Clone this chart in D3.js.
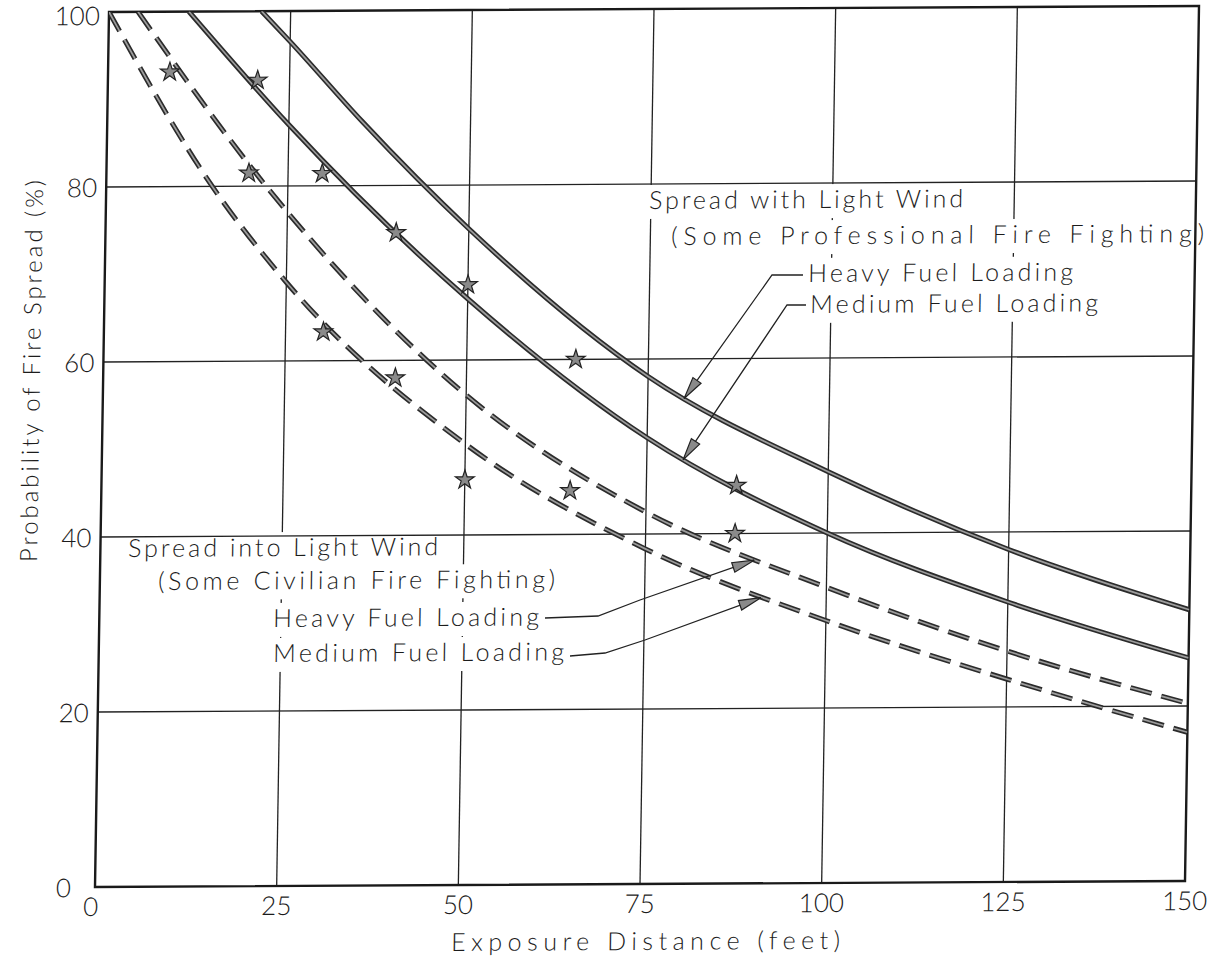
<!DOCTYPE html>
<html><head><meta charset="utf-8">
<script src="https://cdn.jsdelivr.net/npm/d3@7"></script>
<style>
html,body{margin:0;padding:0;background:#fff;}
svg{display:block;}
text{font-family:Lato,"Open Sans",sans-serif;font-weight:300;fill:#1c1c1c;}
</style></head><body>
<svg id="chart" width="1220" height="966"></svg>
<script>
// ---- data (exposure distance in feet, probability of fire spread in %) ----
const xTicks = [0, 25, 50, 75, 100, 125, 150];
const yTicks = [0, 20, 40, 60, 80, 100];

// Spread with light wind (some professional fire fighting) - solid curves
const heavyWithX  = [21, 25, 35, 50, 75, 100, 125, 150];
const heavyWithY  = [100, 96.5, 87.4, 75, 58, 47, 38, 31];
const mediumWithX = [11, 25, 50, 75, 100, 125, 150];
const mediumWithY = [100, 87, 67, 51, 40, 32, 25.5];

// Spread into light wind (some civilian fire fighting) - dashed curves
const heavyIntoX  = [4, 22, 50, 75, 100, 125, 150];
const heavyIntoY  = [100, 80, 56, 42.5, 33.8, 26.4, 20.3];
const mediumIntoX = [0, 14.6, 25, 50, 75, 100, 125, 150];
const mediumIntoY = [100, 80, 69, 50.4, 38.3, 30, 23.2, 17];

// observed fire spread points (stars)
const obsX = [8.5, 20.6, 19.6, 29.7, 30.2, 40, 40.2, 50, 50, 65, 64.5, 87.4, 87.3];
const obsY = [93.1, 92.1, 81.5, 81.4, 63.3, 74.6, 58, 68.6, 46.3, 60, 45, 45.5, 40];

// ---- layout ----
const W = 1090, H = 875;
// the sheet sits very slightly sheared on the page
const M = {a: 1, b: -0.0055, c: -0.016, d: 1, e: 109, f: 12};
const svg = d3.select("#chart");
const g = svg.append("g")
  .attr("transform", `matrix(${M.a},${M.b},${M.c},${M.d},${M.e},${M.f})`);

// page position -> local plot position
function toLocal(X, Y) {
  const det = M.a * M.d - M.b * M.c;
  const px = X - M.e, py = Y - M.f;
  return [(M.d * px - M.c * py) / det, (-M.b * px + M.a * py) / det];
}

const x = d3.scaleLinear().domain([0, 150]).range([0, W]);
const y = d3.scaleLinear().domain([0, 100]).range([H, 0]);

function valueAt(xs, ys, v) {
  for (let i = 0; i < xs.length - 1; i++) {
    if (v >= xs[i] && v <= xs[i + 1]) {
      const t = (v - xs[i]) / (xs[i + 1] - xs[i]);
      return ys[i] + t * (ys[i + 1] - ys[i]);
    }
  }
  return ys[ys.length - 1];
}

g.append("defs").append("clipPath").attr("id", "plotClip")
  .append("rect").attr("x", 0).attr("y", 0).attr("width", W).attr("height", H);

// vertical grid lines (interrupted by the label boxes drawn above them)
g.append("g").selectAll("line").data(xTicks.slice(1, -1)).join("line")
  .attr("x1", d => x(d)).attr("x2", d => x(d))
  .attr("y1", 0).attr("y2", H)
  .attr("stroke", "#222").attr("stroke-width", 1.3);

// annotation labels
const labels = [
  {t: "Spread with Light Wind", X: 649, Y: 209, w: 314},
  {t: "(Some Professional Fire Fighting)", X: 671, Y: 245, w: 533},
  {t: "Heavy Fuel Loading", X: 808, Y: 282, w: 265},
  {t: "Medium Fuel Loading", X: 810, Y: 313, w: 288},
  {t: "Spread into Light Wind", X: 128, Y: 557, w: 310},
  {t: "(Some Civilian Fire Fighting)", X: 158, Y: 590, w: 397},
  {t: "Heavy Fuel Loading", X: 273, Y: 627, w: 266},
  {t: "Medium Fuel Loading", X: 273, Y: 662, w: 291}
];
labels.forEach(l => { const p = toLocal(l.X, l.Y); l.u = p[0]; l.v = p[1]; });

g.append("g").selectAll("rect").data(labels).join("rect")
  .attr("x", d => d.u - 7).attr("y", d => d.v - 24)
  .attr("width", d => d.w + 14).attr("height", 34)
  .attr("fill", "#fff");

// horizontal grid lines
g.append("g").selectAll("line").data(yTicks.slice(1, -1)).join("line")
  .attr("x1", 0).attr("x2", W)
  .attr("y1", d => y(d)).attr("y2", d => y(d))
  .attr("stroke", "#222").attr("stroke-width", 1.3);

// frame
g.append("rect").attr("x", 0).attr("y", 0).attr("width", W).attr("height", H)
  .attr("fill", "none").attr("stroke", "#1a1a1a").attr("stroke-width", 2.4);

// tick labels
g.append("g").selectAll("text").data(xTicks).join("text")
  .attr("x", d => x(d) + (d === 0 ? -4 : 0)).attr("y", H + 29)
  .attr("text-anchor", "middle").attr("font-size", 26)
  .text(d => d);
g.append("g").selectAll("text").data(yTicks).join("text")
  .attr("x", d => d === 0 ? -24 : -9).attr("y", d => y(d) + (d === 100 ? 13 : 10))
  .attr("text-anchor", "end").attr("font-size", 26)
  .text(d => d);

// curves
const line = d3.line().x(d => x(d[0])).y(d => y(d[1])).curve(d3.curveMonotoneX);
const series = [
  {xs: heavyWithX, ys: heavyWithY, dash: null},
  {xs: mediumWithX, ys: mediumWithY, dash: null},
  {xs: heavyIntoX, ys: heavyIntoY, dash: "22,10"},
  {xs: mediumIntoX, ys: mediumIntoY, dash: "22,10"}
];
const curves = g.append("g").attr("clip-path", "url(#plotClip)");
series.forEach(s => {
  const pts = d3.zip(s.xs, s.ys);
  curves.append("path").attr("d", line(pts)).attr("fill", "none")
    .attr("stroke", "#2b2b2b").attr("stroke-width", 5)
    .attr("stroke-dasharray", s.dash);
  curves.append("path").attr("d", line(pts)).attr("fill", "none")
    .attr("stroke", "#9c9c9c").attr("stroke-width", 1.7)
    .attr("stroke-dasharray", s.dash);
});

// observation stars
const star = d3.symbol().type(d3.symbolStar).size(110);
g.append("g").selectAll("path").data(d3.zip(obsX, obsY)).join("path")
  .attr("transform", d => `translate(${x(d[0])},${y(d[1])})`)
  .attr("d", star).attr("fill", "#8a8a8a").attr("stroke", "#222").attr("stroke-width", 1.2);

// leader lines with arrowheads
function arrowHead(sel, from, tip) {
  const ang = Math.atan2(tip[1] - from[1], tip[0] - from[0]);
  const L = 22, Wd = 5;
  const bx = tip[0] - L * Math.cos(ang), by = tip[1] - L * Math.sin(ang);
  const nx = -Math.sin(ang) * Wd, ny = Math.cos(ang) * Wd;
  sel.append("path")
    .attr("d", `M${tip[0]},${tip[1]}L${bx + nx},${by + ny}L${bx - nx},${by - ny}Z`)
    .attr("fill", "#8a8a8a").attr("stroke", "#222").attr("stroke-width", 1.2);
}
const leaders = [
  {pts: [[803, 275], [772, 275]], tipX: 80, xs: heavyWithX, ys: heavyWithY},
  {pts: [[806, 305], [787, 305]], tipX: 80, xs: mediumWithX, ys: mediumWithY},
  {pts: [[545, 618], [598, 616], [640, 600]], tipX: 90, xs: heavyIntoX, ys: heavyIntoY},
  {pts: [[570, 656], [605, 653], [645, 640]], tipX: 91, xs: mediumIntoX, ys: mediumIntoY}
];
const lg = g.append("g");
leaders.forEach(l => {
  const loc = l.pts.map(p => toLocal(p[0], p[1]));
  const tip = [x(l.tipX), y(valueAt(l.xs, l.ys, l.tipX)) + 3];
  loc.push(tip);
  lg.append("path").attr("d", d3.line()(loc)).attr("fill", "none")
    .attr("stroke", "#222").attr("stroke-width", 1.3);
  arrowHead(lg, loc[loc.length - 2], tip);
});

// label text
g.append("g").selectAll("text").data(labels).join("text")
  .attr("x", d => d.u).attr("y", d => d.v)
  .attr("font-size", 25)
  .attr("textLength", d => d.w).attr("lengthAdjust", "spacing")
  .text(d => d.t);

// axis titles
const xt = toLocal(451, 951);
g.append("text").attr("x", xt[0]).attr("y", xt[1])
  .attr("font-size", 25).attr("textLength", 389).attr("lengthAdjust", "spacing")
  .text("Exposure Distance (feet)");
const yt = toLocal(37, 562);
g.append("text").attr("transform", `translate(${yt[0]},${yt[1]}) rotate(-90)`)
  .attr("font-size", 24).attr("textLength", 382).attr("lengthAdjust", "spacing")
  .text("Probability of Fire Spread (%)");
</script>
</body></html>
